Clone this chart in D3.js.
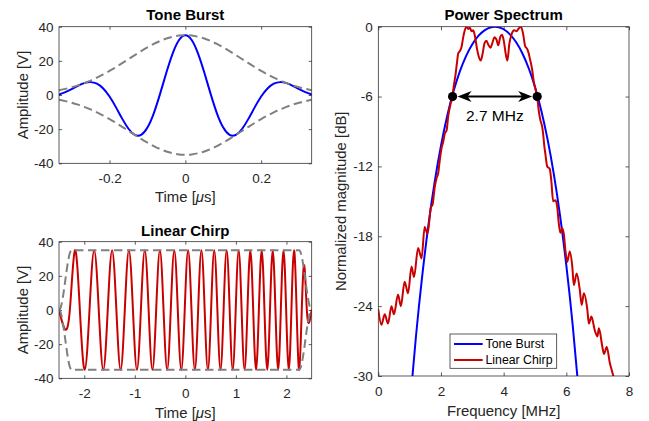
<!DOCTYPE html>
<html><head><meta charset="utf-8">
<script src="https://cdn.jsdelivr.net/npm/d3@7"></script>
<style>
body{margin:0;background:#fff}
svg{display:block}
text{font-family:"Liberation Sans",Arial,Helvetica,sans-serif;fill:#262626}
</style>
</head><body>
<svg id="c" width="649" height="421"></svg>
<script>
// ---------------- DATA ----------------
// Tone burst (time in µs, amplitude in V)
const toneTime = [-0.3333,-0.3167,-0.3,-0.2833,-0.2667,-0.25,-0.2333,-0.2167,-0.2,-0.1833,-0.1667,-0.15,-0.1333,-0.1167,-0.1,-0.0833,-0.0667,-0.05,-0.0333,-0.0167,0,
  0.0167,0.0333,0.05,0.0667,0.0833,0.1,0.1167,0.1333,0.15,0.1667,0.1833,0.2,0.2167,0.2333,0.25,0.2667,0.2833,0.3,0.3167,0.3333];
const toneAmp = [0.29,1.69,3.49,5.39,6.93,7.54,6.63,3.84,-0.89,-7.10,-13.84,-19.75,-23.35,-23.36,-19.08,-10.71,0.66,13.13,24.39,32.20,35.00,
  32.20,24.39,13.13,0.66,-10.71,-19.08,-23.36,-23.35,-19.75,-13.84,-7.10,-0.89,3.84,6.63,7.54,6.93,5.39,3.49,1.69,0.29];
const toneEnv = [2.80,3.58,4.53,5.65,6.95,8.46,10.15,12.04,14.10,16.31,18.62,20.99,23.37,25.69,27.88,29.89,31.64,33.07,34.13,34.78,35.00,
  34.78,34.13,33.07,31.64,29.89,27.88,25.69,23.37,20.99,18.62,16.31,14.10,12.04,10.15,8.46,6.95,5.65,4.53,3.58,2.80];

// Linear chirp: extrema and zero crossings (time in µs, amplitude in V)
const chirpTime = [-2.5,-2.388,-2.2855,-2.1852,-2.087,-1.9909,-1.8965,-1.804,-1.7131,-1.6237,-1.5359,-1.4495,-1.3645,-1.2808,-1.1983,-1.117,
  -1.0368,-0.9578,-0.8797,-0.8027,-0.7266,-0.6515,-0.5773,-0.5039,-0.4314,-0.3597,-0.2888,-0.2186,-0.1492,-0.0805,-0.0124,
  0.0549,0.1216,0.1877,0.2531,0.318,0.3823,0.446,0.5092,0.5718,0.6339,0.6955,0.7566,0.8172,0.8773,0.937,0.9962,
  1.055,1.1133,1.1712,1.2287,1.2858,1.3425,1.3988,1.4548,1.5103,1.5655,1.6203,1.6748,1.7289,1.7827,1.8362,1.8893,
  1.9421,1.9946,2.0467,2.0986,2.1502,2.2015,2.2525,2.3032,2.3536,2.4038,2.4536,2.5];
const chirpAmp = [0,-11,0,35,0,-35,0,35,0,-35,0,35,0,-35,0,35,
  0,-35,0,35,0,-35,0,35,0,-35,0,35,0,-35,0,
  35,0,-35,0,35,0,-35,0,35,0,-35,0,35,0,-35,0,
  35,0,-35,0,35,0,-35,0,35,0,-35,0,35,0,-35,0,
  35,0,-35,0,35,0,-35,0,26,0,-7,0];
const chirpEnvTime = [-2.5,-2.475,-2.45,-2.425,-2.4,-2.375,-2.35,-2.325,-2.3,-2.275,-2.25,2.25,2.275,2.3,2.325,2.35,2.375,2.4,2.425,2.45,2.475,2.5];
const chirpEnv = [0,0.86,3.34,7.21,12.09,17.5,22.91,27.79,31.66,34.14,35,35,34.14,31.66,27.79,22.91,17.5,12.09,7.21,3.34,0.86,0];

// Power spectrum (frequency in MHz, normalized magnitude in dB)
const toneSpecFreq = [1.0,1.2,1.4,1.6,1.8,2.0,2.2,2.4,2.6,2.8,3.0,3.2,3.4,3.6,3.8,4.0,4.2,4.4,4.6,4.8,5.0,5.2,5.4,5.6,5.8,6.0,6.2,6.4];
const toneSpecDb = [-32.76,-26.65,-21.44,-17.03,-13.31,-10.21,-7.64,-5.55,-3.86,-2.53,-1.51,-0.77,-0.29,-0.04,-0.02,-0.22,-0.66,-1.34,-2.30,-3.57,-5.18,-7.19,-9.66,-12.64,-16.23,-20.50,-25.54,-31.46];
const chirpSpecFreq = [0,0.10,0.205,0.31,0.42,0.50,0.63,0.72,0.84,0.95,1.06,1.14,1.27,1.38,1.48,1.57,1.68,1.73,1.80,1.86,1.91,1.96,2.02,2.07,2.12,2.18,2.23,2.30,2.36,2.42,2.47,2.51,2.55,2.60,2.66,2.71,2.76,2.82,2.87,2.92,2.98,3.03,3.09,3.15,3.21,3.27,3.33,3.39,3.45,3.52,3.58,3.64,3.71,3.77,3.83,3.89,3.95,4.01,4.07,4.12,4.18,4.26,4.34,4.41,4.48,4.55,4.62,4.69,4.75,4.80,4.85,4.91,4.96,5.02,5.07,5.12,5.17,5.23,5.26,5.30,5.33,5.39,5.47,5.52,5.58,5.65,5.71,5.76,5.81,5.87,5.92,5.97,6.03,6.11,6.19,6.24,6.33,6.43,6.49,6.56,6.67,6.72,6.80,6.91,6.99,7.04,7.15,7.20,7.29,7.39,7.45,7.50];
const chirpSpecDb = [-24.3,-25.6,-24.7,-25.5,-24.0,-24.7,-23.0,-24.0,-21.9,-22.9,-20.6,-21.5,-19.0,-19.9,-17.2,-17.8,-15.5,-15.3,-13.8,-13.0,-12.6,-11.5,-10.4,-9.9,-9.2,-8.9,-7.7,-6.7,-6.0,-4.9,-4.0,-3.1,-2.3,-2.1,-1.7,-0.9,-0.3,0,-0.2,-0.1,-0.4,-0.3,-0.9,-1.9,-2.6,-2.9,-2.3,-1.4,-1.2,-1.6,-1.8,-1.4,-0.9,-1.1,-1.6,-0.9,-0.7,-1.3,-2.4,-2.9,-1.5,-0.6,-0.3,-0.4,-0.15,0,-0.6,-1.7,-1.9,-2.3,-2.9,-3.7,-4.7,-5.4,-6.0,-7.2,-8.0,-8.6,-9.2,-10.3,-10.9,-12.0,-12.2,-13.2,-15.0,-14.9,-15.5,-16.9,-17.7,-17.3,-17.8,-19.2,-20.2,-19.3,-20.6,-22.2,-21.2,-22.6,-23.9,-22.9,-24.3,-25.5,-24.9,-26.1,-26.6,-25.9,-27.5,-28.1,-27.5,-28.9,-29.5,-30.0];

// Bandwidth annotation
const bwFreq = [2.37, 5.07];
const bwLevel = -6;
const bwLabel = "2.7 MHz";

// Ticks
const toneXTicks = [-0.2,0,0.2];
const ampTicks = [-40,-20,0,20,40];
const chirpXTicks = [-2,-1,0,1,2];
const freqTicks = [0,2,4,6,8];
const dbTicks = [0,-6,-12,-18,-24,-30];
const legendLabels = ["Tone Burst","Linear Chirp"];

// ---------------- DRAW ----------------
const BLUE = "#0000ff", RED = "#c80000", GREY = "#808080", INK = "#262626";
const svg = d3.select("#c");
let clipId = 0;

function panel(left, top, w, h, xDom, yDom, xTicks, yTicks, tl) {
  const g = svg.append("g").attr("transform", `translate(${left},${top})`);
  const x = d3.scaleLinear().domain(xDom).range([0, w]);
  const y = d3.scaleLinear().domain(yDom).range([h, 0]);
  const id = "clip" + (clipId++);
  g.append("clipPath").attr("id", id).append("rect").attr("width", w).attr("height", h);
  const fmt = d => String(d);
  const style = a => a.attr("font-size", null).attr("font-family", null).attr("color", INK)
    .call(s => s.select(".domain").remove())
    .call(s => s.selectAll("line").attr("stroke-width", 0.75))
    .call(s => s.selectAll("text").style("font-size", "13.5px"));
  g.append("g").attr("transform", `translate(0,${h})`)
    .call(d3.axisBottom(x).tickValues(xTicks).tickSizeInner(-tl).tickSizeOuter(0).tickPadding(10).tickFormat(fmt)).call(style);
  g.append("g").call(d3.axisTop(x).tickValues(xTicks).tickSizeInner(-tl).tickSizeOuter(0).tickFormat("")).call(style);
  g.append("g").call(d3.axisLeft(y).tickValues(yTicks).tickSizeInner(-tl).tickSizeOuter(0).tickPadding(5.5).tickFormat(fmt)).call(style);
  g.append("g").attr("transform", `translate(${w},0)`)
    .call(d3.axisRight(y).tickValues(yTicks).tickSizeInner(-tl).tickSizeOuter(0).tickFormat("")).call(style);
  const plot = g.append("g").attr("clip-path", `url(#${id})`);
  const box = () => g.append("rect").attr("width", w).attr("height", h)
    .attr("fill", "none").attr("stroke", INK).attr("stroke-width", 0.75);
  return {g, plot, x, y, w, h, box};
}

function title(txt, cx, yb) {
  svg.append("text").attr("x", cx).attr("y", yb).attr("text-anchor", "middle")
    .style("font-size", "15px").style("font-weight", "bold").style("fill", "#000").text(txt);
}
function xlabel(cx, yb, parts) {
  const t = svg.append("text").attr("x", cx).attr("y", yb).attr("text-anchor", "middle").style("font-size", "14.9px");
  parts.forEach(p => { const s = t.append("tspan").text(p[0]); if (p[1]) s.style("font-style", "italic"); });
}
function ylabel(xb, cy, txt) {
  svg.append("text").attr("transform", `translate(${xb},${cy}) rotate(-90)`).attr("text-anchor", "middle")
    .style("font-size", "14.9px").text(txt);
}
function line(p, xs, ys, color, curve, dash) {
  const pts = xs.map((v, i) => [v, ys[i]]);
  const path = p.plot.append("path").datum(pts)
    .attr("d", d3.line().x(d => p.x(d[0])).y(d => p.y(d[1])).curve(curve))
    .attr("fill", "none").attr("stroke", color).attr("stroke-width", 2)
    .attr("stroke-linejoin", "round").attr("stroke-linecap", dash ? "butt" : "round");
  if (dash) path.attr("stroke-dasharray", dash);
  return path;
}

// --- Tone Burst ---
const A = panel(59, 26.7, 252.7, 136.6, [-1/3, 1/3], [-40, 40], toneXTicks, ampTicks, 3);
line(A, toneTime, toneAmp, BLUE, d3.curveNatural);
line(A, toneTime, toneEnv, GREY, d3.curveNatural, "8.5,4.5");
line(A, toneTime, toneEnv.map(v => -v), GREY, d3.curveNatural, "8.5,4.5");
A.box();
title("Tone Burst", 185.3, 20.3);
xlabel(185.3, 202, [["Time ["], ["\u03BC", true], ["s]"]]);
ylabel(27.5, 95, "Amplitude [V]");

// --- Linear Chirp ---
const B = panel(59, 241.7, 252.7, 136.6, [-2.5, 2.5], [-40, 40], chirpXTicks, ampTicks, 3);
line(B, chirpTime, chirpAmp, RED, d3.curveNatural);
line(B, chirpEnvTime, chirpEnv, GREY, d3.curveMonotoneX, "8.5,4.5");
line(B, chirpEnvTime, chirpEnv.map(v => -v), GREY, d3.curveMonotoneX, "8.5,4.5");
B.box();
title("Linear Chirp", 185.3, 235.5);
xlabel(185.3, 418, [["Time ["], ["\u03BC", true], ["s]"]]);
ylabel(27.5, 310, "Amplitude [V]");

// --- Power Spectrum ---
const C = panel(378.3, 26.7, 250.7, 349.3, [0, 8], [-30, 0], freqTicks, dbTicks, 3.5);
line(C, toneSpecFreq, toneSpecDb, BLUE, d3.curveNatural);
line(C, chirpSpecFreq, chirpSpecDb, RED, d3.curveMonotoneX);
C.box();
title("Power Spectrum", 503.6, 20.3);
xlabel(503.6, 415.5, [["Frequency [MHz]"]]);
ylabel(346, 201.3, "Normalized magnitude [dB]");

// annotation
const ay = C.y(bwLevel);
const xa = C.x(bwFreq[0]) + 5, xb = C.x(bwFreq[1]) - 5;
C.g.append("line").attr("x1", xa + 8).attr("x2", xb - 8).attr("y1", ay).attr("y2", ay)
  .attr("stroke", "#000").attr("stroke-width", 2);
const head = (tip, dir) => {
  const L = 14, W = 5.5, N = 10;
  return `M${tip},${ay} L${tip + dir * L},${ay - W} L${tip + dir * N},${ay} L${tip + dir * L},${ay + W} Z`;
};
C.g.append("path").attr("d", head(xa, 1)).attr("fill", "#000");
C.g.append("path").attr("d", head(xb, -1)).attr("fill", "#000");
C.g.selectAll("circle.bw").data(bwFreq).enter().append("circle")
  .attr("cx", d => C.x(d)).attr("cy", ay).attr("r", 4.6).attr("fill", "#000");
C.g.append("text").attr("x", (C.x(bwFreq[0]) + C.x(bwFreq[1])) / 2).attr("y", ay + 24.5)
  .attr("text-anchor", "middle").style("font-size", "15.5px").style("fill", "#000").text(bwLabel);

// legend
const lg = C.g.append("g").attr("transform", "translate(71.7,307.3)");
lg.append("rect").attr("width", 106.7).attr("height", 34.3).attr("fill", "#fff")
  .attr("stroke", INK).attr("stroke-width", 0.75);
[BLUE, RED].forEach((c, i) => {
  const yy = 10 + i * 16;
  lg.append("line").attr("x1", 4).attr("x2", 32.7).attr("y1", yy).attr("y2", yy)
    .attr("stroke", c).attr("stroke-width", 2);
  lg.append("text").attr("x", 35.5).attr("y", yy + 4.3).style("font-size", "12.3px").style("fill", "#000")
    .text(legendLabels[i]);
});
</script>
</body></html>
